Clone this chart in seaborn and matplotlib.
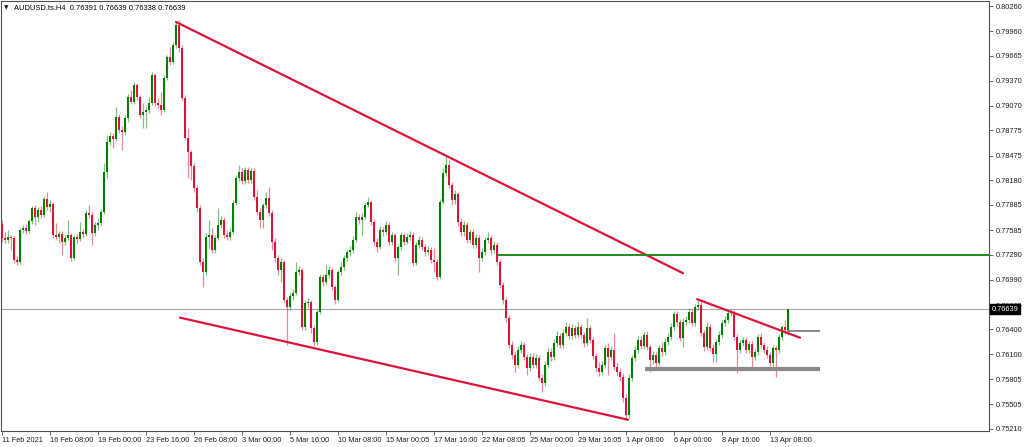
import matplotlib
matplotlib.use("Agg")
import matplotlib.pyplot as plt
import numpy as np
import pandas as pd
import seaborn as sns

# ---------------- data (AUDUSD H4) ----------------
symbol_title = "AUDUSD.ts.H4"
last_ohlc = [0.76391, 0.76639, 0.76338, 0.76639]
bid_price = 0.76639
first_open = 0.7766

closes = [
    0.7749, 0.7747, 0.7750, 0.7749, 0.7723, 0.7720, 0.7759, 0.7761, 0.7757, 0.7769,
    0.7785, 0.7774, 0.7782, 0.7776, 0.7796, 0.7786, 0.7790, 0.7753, 0.7750, 0.7754,
    0.7744, 0.7749, 0.7753, 0.7725, 0.7750, 0.7748, 0.7756, 0.7754, 0.7779, 0.7776,
    0.7755, 0.7765, 0.7767, 0.7780, 0.7828, 0.7864, 0.7871, 0.7867, 0.7893, 0.7878,
    0.7876, 0.7892, 0.7917, 0.7911, 0.7932, 0.7917, 0.7896, 0.7899, 0.7902, 0.7910,
    0.7944, 0.7910, 0.7908, 0.7902, 0.7940, 0.7965, 0.7959, 0.7979, 0.8003, 0.7976,
    0.7916, 0.7868, 0.7852, 0.7835, 0.7809, 0.7785, 0.7720, 0.7708, 0.7750, 0.7753,
    0.7735, 0.7749, 0.7765, 0.7771, 0.7753, 0.7750, 0.7756, 0.7791, 0.7821, 0.7828,
    0.7817, 0.7830, 0.7818, 0.7829, 0.7798, 0.7780, 0.7771, 0.7788, 0.7797, 0.7779,
    0.7744, 0.7725, 0.7711, 0.7720, 0.7675, 0.7667, 0.7680, 0.7683, 0.7708, 0.7711,
    0.7643, 0.7671, 0.7673, 0.7642, 0.7625, 0.7661, 0.7702, 0.7696, 0.7705, 0.7711,
    0.7690, 0.7675, 0.7708, 0.7714, 0.7725, 0.7732, 0.7735, 0.7747, 0.7774, 0.7771,
    0.7774, 0.7788, 0.7792, 0.7768, 0.7744, 0.7738, 0.7759, 0.7756, 0.7765, 0.7744,
    0.7753, 0.7725, 0.7738, 0.7753, 0.7744, 0.7750, 0.7753, 0.7719, 0.7741, 0.7747,
    0.7738, 0.7732, 0.7735, 0.7723, 0.7720, 0.7702, 0.7792, 0.7827, 0.7836, 0.7812,
    0.7794, 0.7801, 0.7768, 0.7756, 0.7765, 0.7747, 0.7756, 0.7741, 0.7749, 0.7725,
    0.7732, 0.7747, 0.7749, 0.7735, 0.7741, 0.7720, 0.7693, 0.7675, 0.7654, 0.7621,
    0.7609, 0.7597, 0.7615, 0.7621, 0.7607, 0.7594, 0.7607, 0.7597, 0.7606, 0.7582,
    0.7576, 0.7597, 0.7613, 0.7607, 0.7624, 0.7632, 0.7621, 0.7636, 0.7643, 0.7632,
    0.7642, 0.7633, 0.7643, 0.7633, 0.7624, 0.7642, 0.7627, 0.7608, 0.7594, 0.7589,
    0.7597, 0.7618, 0.7607, 0.7615, 0.7595, 0.7589, 0.7583, 0.7558, 0.7538, 0.7582,
    0.7606, 0.7615, 0.7627, 0.7620, 0.7633, 0.7619, 0.7603, 0.7609, 0.7600, 0.7618,
    0.7613, 0.7625, 0.7631, 0.7643, 0.7658, 0.7649, 0.7630, 0.7649, 0.7651, 0.7661,
    0.7647, 0.7667, 0.7669, 0.7636, 0.7619, 0.7643, 0.7618, 0.7610, 0.7625, 0.7633,
    0.7647, 0.7651, 0.7659, 0.7661, 0.7631, 0.7615, 0.7624, 0.7627, 0.7615, 0.7622,
    0.7607, 0.7613, 0.7631, 0.7621, 0.7615, 0.7609, 0.7600, 0.7618, 0.7615, 0.7631,
    0.7643, 0.76391, 0.76639,
]

highs = [
    0.7771, 0.7756, 0.7759, 0.7753, 0.7751, 0.7728, 0.7761, 0.7765, 0.7766, 0.7772,
    0.7787, 0.7788, 0.7786, 0.7787, 0.7799, 0.7804, 0.7794, 0.7792, 0.7767, 0.7757,
    0.7757, 0.7753, 0.7771, 0.7755, 0.7753, 0.7754, 0.7768, 0.7760, 0.7783, 0.7788,
    0.7780, 0.7768, 0.7773, 0.7784, 0.7839, 0.7872, 0.7876, 0.7874, 0.7905, 0.7897,
    0.7883, 0.7896, 0.7921, 0.7926, 0.7935, 0.7934, 0.7920, 0.7910, 0.7905, 0.7917,
    0.7947, 0.7946, 0.7916, 0.7923, 0.7944, 0.7967, 0.7977, 0.7983, 0.8007, 0.8009,
    0.7979, 0.7920, 0.7880, 0.7854, 0.7839, 0.7812, 0.7788, 0.7725, 0.7755, 0.7771,
    0.7761, 0.7753, 0.7785, 0.7775, 0.7774, 0.7759, 0.7761, 0.7794, 0.7824, 0.7836,
    0.7833, 0.7834, 0.7834, 0.7833, 0.7833, 0.7806, 0.7785, 0.7791, 0.7804, 0.7810,
    0.7782, 0.7749, 0.7729, 0.7725, 0.7723, 0.7678, 0.7683, 0.7688, 0.7720, 0.7716,
    0.7713, 0.7675, 0.7677, 0.7675, 0.7645, 0.7664, 0.7706, 0.7706, 0.7717, 0.7716,
    0.7713, 0.7693, 0.7711, 0.7720, 0.7729, 0.7736, 0.7739, 0.7751, 0.7780, 0.7778,
    0.7779, 0.7792, 0.7798, 0.7794, 0.7772, 0.7749, 0.7763, 0.7762, 0.7769, 0.7768,
    0.7756, 0.7755, 0.7742, 0.7756, 0.7755, 0.7755, 0.7757, 0.7756, 0.7744, 0.7751,
    0.7750, 0.7742, 0.7739, 0.7738, 0.7737, 0.7724, 0.7796, 0.7833, 0.7846, 0.7842,
    0.7816, 0.7806, 0.7804, 0.7773, 0.7769, 0.7768, 0.7760, 0.7760, 0.7754, 0.7753,
    0.7737, 0.7750, 0.7756, 0.7753, 0.7745, 0.7744, 0.7724, 0.7696, 0.7678, 0.7657,
    0.7626, 0.7614, 0.7620, 0.7626, 0.7625, 0.7610, 0.7612, 0.7612, 0.7610, 0.7609,
    0.7587, 0.7602, 0.7618, 0.7618, 0.7628, 0.7638, 0.7636, 0.7640, 0.7649, 0.7646,
    0.7646, 0.7645, 0.7649, 0.7646, 0.7637, 0.7654, 0.7645, 0.7631, 0.7612, 0.7601,
    0.7602, 0.7621, 0.7624, 0.7620, 0.7636, 0.7601, 0.7594, 0.7588, 0.7563, 0.7587,
    0.7609, 0.7620, 0.7632, 0.7632, 0.7637, 0.7638, 0.7622, 0.7614, 0.7614, 0.7621,
    0.7625, 0.7630, 0.7636, 0.7648, 0.7662, 0.7662, 0.7652, 0.7654, 0.7656, 0.7665,
    0.7664, 0.7670, 0.7676, 0.7673, 0.7639, 0.7649, 0.7646, 0.7622, 0.7628, 0.7638,
    0.7651, 0.7656, 0.7663, 0.7664, 0.7663, 0.7634, 0.7627, 0.7631, 0.7631, 0.7626,
    0.7626, 0.7616, 0.7634, 0.7636, 0.7625, 0.7620, 0.7613, 0.7621, 0.7621, 0.7634,
    0.7645, 0.7651, 0.76639,
]

lows = [
    0.7744, 0.7743, 0.7743, 0.7735, 0.7719, 0.7717, 0.7718, 0.7755, 0.7754, 0.7755,
    0.7766, 0.7765, 0.7768, 0.7773, 0.7774, 0.7782, 0.7780, 0.7749, 0.7747, 0.7743,
    0.7729, 0.7741, 0.7747, 0.7722, 0.7723, 0.7743, 0.7745, 0.7749, 0.7751, 0.7773,
    0.7741, 0.7751, 0.7759, 0.7763, 0.7778, 0.7821, 0.7860, 0.7856, 0.7865, 0.7874,
    0.7854, 0.7872, 0.7887, 0.7909, 0.7909, 0.7914, 0.7892, 0.7880, 0.7880, 0.7898,
    0.7908, 0.7907, 0.7904, 0.7896, 0.7900, 0.7938, 0.7956, 0.7957, 0.7976, 0.7971,
    0.7914, 0.7866, 0.7821, 0.7818, 0.7804, 0.7780, 0.7717, 0.7690, 0.7705, 0.7737,
    0.7731, 0.7731, 0.7747, 0.7761, 0.7749, 0.7747, 0.7747, 0.7754, 0.7788, 0.7817,
    0.7813, 0.7813, 0.7815, 0.7815, 0.7794, 0.7776, 0.7761, 0.7761, 0.7785, 0.7775,
    0.7735, 0.7720, 0.7705, 0.7696, 0.7671, 0.7621, 0.7663, 0.7675, 0.7681, 0.7705,
    0.7639, 0.7639, 0.7665, 0.7636, 0.7620, 0.7621, 0.7658, 0.7692, 0.7694, 0.7701,
    0.7687, 0.7670, 0.7673, 0.7705, 0.7711, 0.7722, 0.7728, 0.7731, 0.7744, 0.7766,
    0.7753, 0.7772, 0.7786, 0.7765, 0.7739, 0.7732, 0.7736, 0.7751, 0.7753, 0.7741,
    0.7741, 0.7720, 0.7705, 0.7735, 0.7741, 0.7742, 0.7747, 0.7716, 0.7717, 0.7737,
    0.7735, 0.7728, 0.7729, 0.7719, 0.7708, 0.7699, 0.7700, 0.7790, 0.7823, 0.7809,
    0.7788, 0.7790, 0.7763, 0.7751, 0.7751, 0.7743, 0.7743, 0.7737, 0.7737, 0.7708,
    0.7722, 0.7729, 0.7743, 0.7730, 0.7731, 0.7717, 0.7689, 0.7670, 0.7649, 0.7618,
    0.7605, 0.7589, 0.7594, 0.7612, 0.7603, 0.7585, 0.7590, 0.7594, 0.7594, 0.7578,
    0.7565, 0.7572, 0.7594, 0.7602, 0.7603, 0.7620, 0.7618, 0.7618, 0.7632, 0.7628,
    0.7628, 0.7630, 0.7630, 0.7630, 0.7619, 0.7620, 0.7624, 0.7605, 0.7589, 0.7584,
    0.7585, 0.7594, 0.7585, 0.7603, 0.7591, 0.7584, 0.7578, 0.7553, 0.7532, 0.7534,
    0.7578, 0.7602, 0.7612, 0.7616, 0.7616, 0.7615, 0.7589, 0.7599, 0.7595, 0.7596,
    0.7608, 0.7609, 0.7621, 0.7627, 0.7639, 0.7644, 0.7626, 0.7619, 0.7645, 0.7648,
    0.7644, 0.7644, 0.7663, 0.7632, 0.7614, 0.7615, 0.7614, 0.7601, 0.7601, 0.7621,
    0.7630, 0.7644, 0.7648, 0.7656, 0.7627, 0.7588, 0.7612, 0.7620, 0.7612, 0.7612,
    0.7594, 0.7603, 0.7609, 0.7618, 0.7612, 0.7606, 0.7596, 0.7594, 0.7583, 0.7612,
    0.7627, 0.7634, 0.76338,
]

time_label_bars = [0, 16, 32, 48, 64, 80, 96, 112, 128, 144, 160, 176, 192, 208, 224, 240, 256]
time_labels = ["11 Feb 2021", "16 Feb 08:00", "19 Feb 00:00", "23 Feb 16:00", "26 Feb 08:00",
               "3 Mar 00:00", "5 Mar 16:00", "10 Mar 08:00", "15 Mar 00:05", "17 Mar 16:00",
               "22 Mar 08:05", "25 Mar 00:00", "29 Mar 16:05", "1 Apr 08:00", "6 Apr 00:00",
               "8 Apr 16:00", "13 Apr 08:00"]

price_ticks = [0.80260, 0.79960, 0.79665, 0.79370, 0.79070, 0.78775, 0.78475, 0.78180, 0.77885,
               0.77585, 0.77290, 0.76990, 0.76685, 0.76400, 0.76100, 0.75805, 0.75505, 0.75210]

# analysis objects (bar index, price)
upper_trend_bars = [58, 227]
upper_trend_prices = [0.8007, 0.7707]
lower_trend_bars = [59.3, 208.7]
lower_trend_prices = [0.7654, 0.7532]
flag_trend_bars = [231.7, 266]
flag_trend_prices = [0.7676, 0.7630]
resistance_level = 0.7729
resistance_start_bar = 165
support_level = 0.7593
support_bars = [214.3, 272.7]
breakout_level = 0.7638
breakout_bars = [261.7, 272.7]

# ---------------- figure ----------------
sns.set_theme(style="white")
plt.rcParams['font.family'] = ['Liberation Sans', 'DejaVu Sans']

opens = [first_open] + closes[:-1]
df = pd.DataFrame({"bar": np.arange(len(closes)), "open": opens, "high": highs,
                   "low": lows, "close": closes})
df["bull"] = df["close"] >= df["open"]

GREEN = "#008000"
RED = "#DC143C"
AXC = "#505050"
TXT = "#1e1e1e"

fig = plt.figure(figsize=(10.24, 4.47), dpi=100)
fig.patch.set_facecolor("white")
ax = fig.add_axes([1 / 1024, 16 / 447, 988 / 1024, 430 / 447])
ax.set_facecolor("white")
ax.set_xlim(-1 / 3, 987 / 3)
ax.set_ylim(0.75186, 0.80320)

# bid line
ax.axhline(bid_price, color="#a8a8a8", lw=0.8, zorder=1)

colors = np.where(df["bull"], GREEN, RED)
ax.vlines(df["bar"], df["low"], df["high"], colors=colors, linewidth=0.9, alpha=0.5, zorder=2)
body_bottom = np.minimum(df["open"], df["close"])
body_height = np.maximum(np.abs(df["close"] - df["open"]), 0.00004)
ax.bar(df["bar"], body_height, bottom=body_bottom, width=0.62, color=colors,
       linewidth=0, zorder=3)

# trend lines
for bx, py in [(upper_trend_bars, upper_trend_prices),
               (lower_trend_bars, lower_trend_prices),
               (flag_trend_bars, flag_trend_prices)]:
    sns.lineplot(x=bx, y=py, color=RED, lw=1.6, ax=ax, zorder=4)

ax.hlines(resistance_level, resistance_start_bar, ax.get_xlim()[1], color="#1c8c1c", lw=1.4, zorder=4)
ax.hlines(support_level, support_bars[0], support_bars[1], color="#8a8a8a", lw=3.0, zorder=4)
ax.hlines(breakout_level, breakout_bars[0], breakout_bars[1], color="#8a8a8a", lw=1.4, zorder=4)

# axes styling
for s in ax.spines.values():
    s.set_visible(True)
    s.set_color(AXC)
    s.set_linewidth(0.8)

ax.yaxis.tick_right()
ax.set_yticks(price_ticks)
ax.set_yticklabels([f"{v:.5f}" for v in price_ticks])
ax.tick_params(axis="y", which="both", right=True, left=False, direction="out", length=3,
               width=0.6, color=AXC, pad=1.5, labelsize=5.3, labelcolor=TXT)

ax.set_xticks(time_label_bars)
ax.set_xticklabels(time_labels, ha="left")
ax.tick_params(axis="x", bottom=True, direction="out", length=3, width=0.6, color=AXC,
               pad=1.0, labelsize=5.3, labelcolor=TXT)
ax.set_xlabel("")
ax.set_ylabel("")
ax.grid(False)

# current price box
ax.annotate(f"{bid_price:.5f}", xy=(1, bid_price), xycoords=("axes fraction", "data"),
            xytext=(2, 0), textcoords="offset points", ha="left", va="center",
            fontsize=5.3, color="white",
            bbox=dict(boxstyle="square,pad=0.2", fc="black", ec="black"),
            annotation_clip=False, zorder=10)

# header
fig.text(4 / 1024, 1 - 8 / 447, "\u25bc", fontsize=4.2, va="center", ha="left",
         family=["DejaVu Sans"], color="#202020")
fig.text(14 / 1024, 1 - 8 / 447,
         f"{symbol_title}  " + " ".join(f"{v:.5f}" for v in last_ohlc),
         fontsize=5.4, va="center", ha="left", color="black")

fig.savefig("out.png", dpi=100, facecolor="white")
